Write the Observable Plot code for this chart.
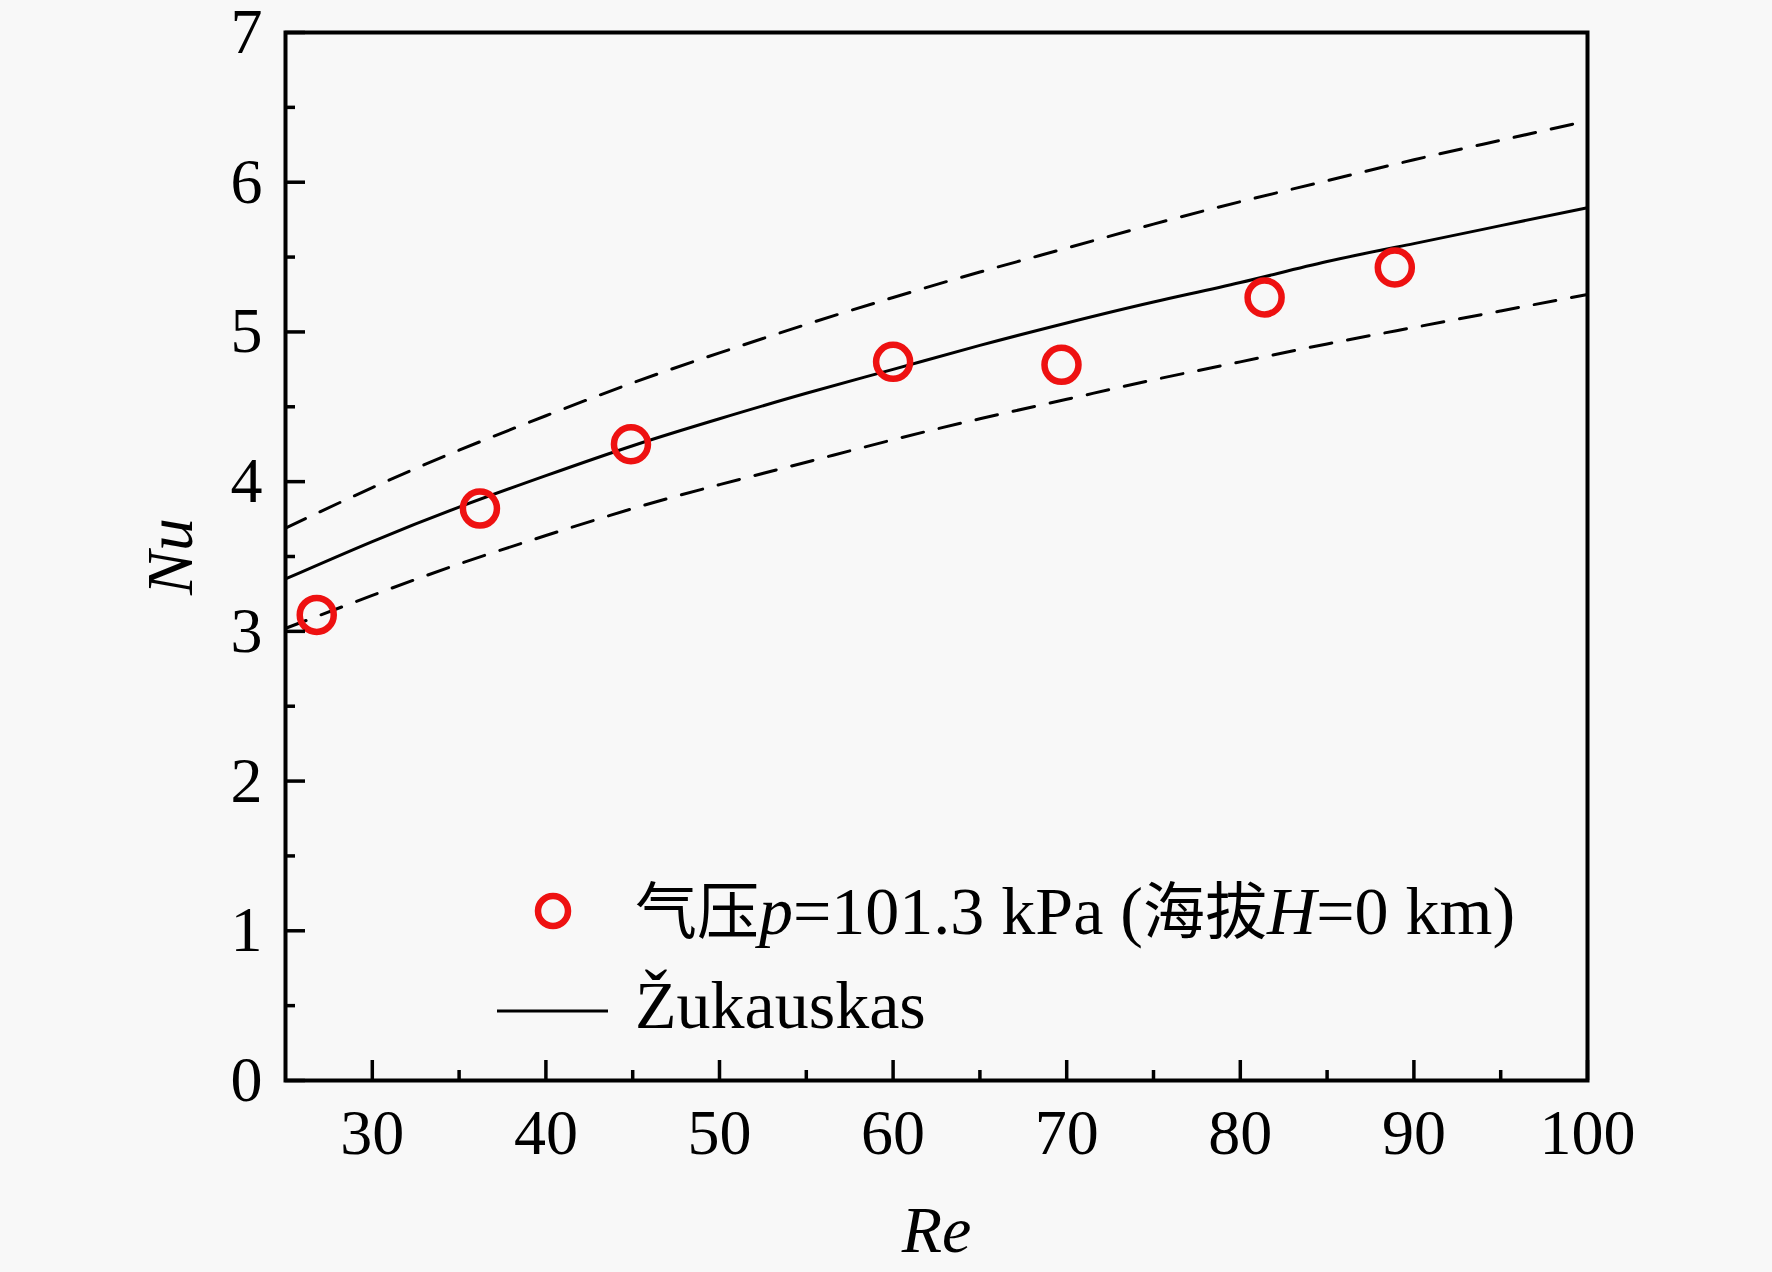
<!DOCTYPE html>
<html>
<head>
<meta charset="utf-8">
<script src="https://cdn.jsdelivr.net/npm/d3@7"></script>
<script src="https://cdn.jsdelivr.net/npm/@observablehq/plot@0.6"></script>
<style>
  html, body { margin: 0; padding: 0; background: #f8f8f8; }
  #wrap { position: relative; width: 1772px; height: 1272px; }
  #legend { position: absolute; left: 0; top: 0; font-family: "Liberation Serif", "Noto Sans CJK SC", serif; font-size: 68px; color: #000; }
  .row { position: absolute; white-space: nowrap; display: flex; align-items: center; }
  .row svg { position: absolute; }
  .cjk { font-family: "Noto Sans CJK SC", sans-serif; font-size: 62px; }
</style>
</head>
<body>
<div id="wrap"></div>
<script>
// Experimental points (Re, Nu)
const expRe = [26.8, 36.2, 44.9, 60.0, 69.7, 81.4, 88.9];
const expNu = [3.11, 3.82, 4.25, 4.80, 4.78, 5.23, 5.43];

// Žukauskas correlation curve and ±10% bands
const curveRe = [25, 30, 35, 40, 45, 50, 55, 60, 65, 70, 75, 80, 85, 90, 95, 100];
const zukNu   = [3.35, 3.60, 3.83, 4.04, 4.24, 4.42, 4.59, 4.75, 4.91, 5.06, 5.20, 5.33, 5.47, 5.59, 5.71, 5.83];
const upperNu = [3.69, 3.96, 4.21, 4.44, 4.66, 4.86, 5.05, 5.23, 5.40, 5.56, 5.72, 5.87, 6.01, 6.15, 6.28, 6.41];
const lowerNu = [3.02, 3.24, 3.45, 3.64, 3.82, 3.98, 4.13, 4.28, 4.42, 4.55, 4.68, 4.80, 4.92, 5.03, 5.14, 5.25];

const xMajor = [30, 40, 50, 60, 70, 80, 90, 100];
const xMinor = [35, 45, 55, 65, 75, 85, 95];
const yMajor = [0, 1, 2, 3, 4, 5, 6, 7];
const yMinor = [0.5, 1.5, 2.5, 3.5, 4.5, 5.5, 6.5];

const points = expRe.map((r, i) => ({Re: r, Nu: expNu[i]}));
const zuk = curveRe.map((r, i) => ({Re: r, Nu: zukNu[i]}));
const up = curveRe.map((r, i) => ({Re: r, Nu: upperNu[i]}));
const lo = curveRe.map((r, i) => ({Re: r, Nu: lowerNu[i]}));

const font = "'Liberation Serif', 'Times New Roman', serif";

const chart = Plot.plot({
  width: 1772,
  height: 1272,
  marginLeft: 285,
  marginRight: 185,
  marginTop: 32,
  marginBottom: 192,
  style: { background: "#f8f8f8", fontFamily: font, color: "#000", overflow: "visible" },
  x: { domain: [25, 100] },
  y: { domain: [0, 7] },
  marks: [
    Plot.line(up, {x: "Re", y: "Nu", stroke: "#000", strokeWidth: 3, strokeDasharray: "22,16", curve: "natural"}),
    Plot.line(lo, {x: "Re", y: "Nu", stroke: "#000", strokeWidth: 3, strokeDasharray: "22,16", curve: "natural"}),
    Plot.line(zuk, {x: "Re", y: "Nu", stroke: "#000", strokeWidth: 3, curve: "natural"}),
    Plot.dot(points, {x: "Re", y: "Nu", r: 17, stroke: "#ee1111", strokeWidth: 6.5, fill: "none"}),
    Plot.axisX({ticks: xMajor, tickSize: -20, tickPadding: 48, fontSize: 64, label: null, strokeWidth: 3.5, tickFormat: d3.format("d")}),
    Plot.axisX({ticks: xMinor, tickSize: -10, tickFormat: () => "", label: null, strokeWidth: 3.5}),
    Plot.axisY({ticks: yMajor, tickSize: -20, tickPadding: 43, fontSize: 64, label: null, strokeWidth: 3.5, tickFormat: d3.format("d")}),
    Plot.axisY({ticks: yMinor, tickSize: -10, tickFormat: () => "", label: null, strokeWidth: 3.5}),
    Plot.frame({stroke: "#000", strokeWidth: 4}),
    Plot.text(["Re"], {frameAnchor: "bottom", text: d => d, dy: 150, fontSize: 66, fontStyle: "italic", lineAnchor: "middle", textAnchor: "middle"}),
    Plot.text(["Nu"], {frameAnchor: "left", text: d => d, dx: -115, rotate: -90, fontSize: 66, fontStyle: "italic", lineAnchor: "middle", textAnchor: "middle"})
  ]
});

const wrap = document.getElementById("wrap");
wrap.appendChild(chart);

const legend = document.createElement("div");
legend.id = "legend";
legend.innerHTML = `
  <div class="row" style="left:497px; top:868px; height:78px;">
    <svg width="112" height="78" style="left:0;top:0"><circle cx="56" cy="43" r="15" fill="none" stroke="#ee1111" stroke-width="6.5"/></svg>
    <span style="margin-left:138px"><span class="cjk">气压</span><i>p</i>=101.3 kPa (<span class="cjk">海拔</span><i>H</i>=0 km)</span>
  </div>
  <div class="row" style="left:497px; top:966px; height:78px;">
    <svg width="112" height="78" style="left:0;top:0"><line x1="0" x2="111" y1="45" y2="45" stroke="#000" stroke-width="3"/></svg>
    <span style="margin-left:138px">Žukauskas</span>
  </div>`;
wrap.appendChild(legend);
</script>
</body>
</html>
